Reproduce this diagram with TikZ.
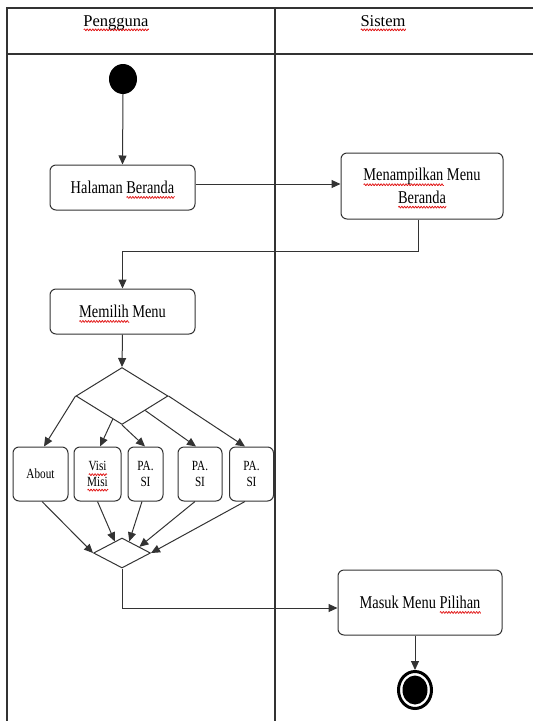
\documentclass[tikz,border=0pt]{standalone}
\usepackage{fontspec}
\setmainfont{Liberation Serif}
\newfontfamily\narrowserif[FakeStretch=0.8]{Liberation Serif}
\usetikzlibrary{shapes.geometric,arrows.meta,calc}
\definecolor{ink}{HTML}{333333}
\definecolor{spellred}{HTML}{E01010}
% red wavy underline, as left by a spell checker
\newsavebox\spellbox
\newcommand\spellmark[1]{%
  \sbox\spellbox{#1}%
  \pgfmathsetmacro\spellw{\wd\spellbox}%
  \pgfmathtruncatemacro\spelln{4*\spellw+2}%
  \rlap{\smash{\tikz[baseline=0pt,x=1pt,y=1pt]
    \draw[spellred,line width=0.7pt,sharp corners,solid,-]
      plot[domain=0:\spellw,samples=\spelln] (\x,{-3.8+0.9*sin(\x*130)});}}%
  \usebox\spellbox}

\begin{document}
\begin{tikzpicture}[x=1pt,y=-1pt,
  lane/.style={draw=ink,line width=1.1pt},
  act/.style={draw=ink,line width=1pt,rounded corners=6pt,inner sep=0pt,
    font=\narrowserif\fontsize{18}{22.5}\selectfont,align=center},
  opt/.style={act,font=\narrowserif\fontsize{14}{15.5}\selectfont,minimum height=54pt},
  flow/.style={draw=ink,line width=1pt,-{Triangle[length=9pt,width=8pt]}},
  branch/.style={diamond,draw=ink,line width=1pt,inner sep=0pt},
  headtext/.style={anchor=base,inner sep=0pt,font=\fontsize{16.5}{19}\selectfont},
  ]
\useasboundingbox (0,0) rectangle (533,721);

% swimlane frame
\draw[lane] (533,8) -- (7,8) -- (7,721);
\draw[lane] (7,54) -- (533,54);
\draw[lane] (275,8) -- (275,721);
\node[headtext] (hUser) at (116,26) {\spellmark{Pengguna}};
\node[headtext] (hSys) at (383,26) {\spellmark{Sistem}};

% initial and final states
\node[ellipse,fill=black,minimum width=28pt,minimum height=30pt,inner sep=0pt] (start) at (123,79) {};
\node[ellipse,draw=black,line width=3pt,minimum width=33pt,minimum height=37pt,inner sep=0pt] (finish) at (415,690) {};
\fill[black] (finish.center) ellipse [x radius=12.5pt,y radius=14.5pt];

% activities
\node[act,minimum width=145pt,minimum height=45pt] (hal) at (122.5,187.5) {Halaman \spellmark{Beranda}};
\node[act,minimum width=162pt,minimum height=66pt] (men) at (422,186) {\spellmark{Menampilkan} Menu\\\spellmark{Beranda}};
\node[act,minimum width=145pt,minimum height=45pt] (mem) at (122.5,311.5) {\spellmark{Memilih} Menu};
\node[act,minimum width=164pt,minimum height=65pt] (masuk) at (420,602.5) {Masuk Menu \spellmark{Pilihan}};

% menu options
\node[opt,minimum width=55pt] (about) at (40.5,474) {About};
\node[opt,minimum width=47pt] (visi) at (97.5,474) {\spellmark{Visi}\\\spellmark{Misi}};
\node[opt,minimum width=35pt] (pa1) at (145.5,474) {PA.\\SI};
\node[opt,minimum width=44pt] (pa2) at (200,474) {PA.\\SI};
\node[opt,minimum width=44pt] (pa3) at (251.5,474) {PA.\\SI};

% decision and merge
\node[branch,minimum width=92pt,minimum height=57pt] (dec) at (122,396) {};
\node[branch,minimum width=57pt,minimum height=30pt] (mrg) at (122,553) {};

% control flow
\draw[flow] (start.south) -- (hal.north);
\draw[flow] ([yshift=3.5pt]hal.east) -- ([yshift=3.5pt]hal.east -| men.west);
\coordinate (turn) at (122.5,251);
\draw[flow] ([xshift=-4pt]men.south) |- (turn) -- (mem.north);
\draw[flow] (mem.south) -- (dec.north);

\draw[flow] (dec.west) -- ([xshift=3.5pt]about.north);
\draw[flow] ($(dec.south)!0.2!(dec.west)$) -- ([xshift=2.5pt]visi.north);
\draw[flow] (dec.south) -- ([xshift=-0.5pt]pa1.north);
\draw[flow] (dec.south east) -- ([xshift=-4pt]pa2.north);
\draw[flow] (dec.east) -- ([xshift=-6.5pt]pa3.north);

\draw[flow] ([xshift=1.5pt]about.south) -- (mrg.west);
\draw[flow] (visi.south) -- ($(mrg.north)!0.25!(mrg.west)$);
\draw[flow] ([xshift=-3.5pt]pa1.south) -- ($(mrg.north)!0.25!(mrg.east)$);
\draw[flow] ([xshift=-5pt]pa2.south) -- ($(mrg.north)!0.6!(mrg.east)$);
\draw[flow] ([xshift=-6.5pt]pa3.south) -- (mrg.east);

\draw[flow] (mrg.south) |- ([yshift=-5.5pt]masuk.west);
\draw[flow] ([xshift=-5pt]masuk.south) -- (finish.north);
\end{tikzpicture}
\end{document}
